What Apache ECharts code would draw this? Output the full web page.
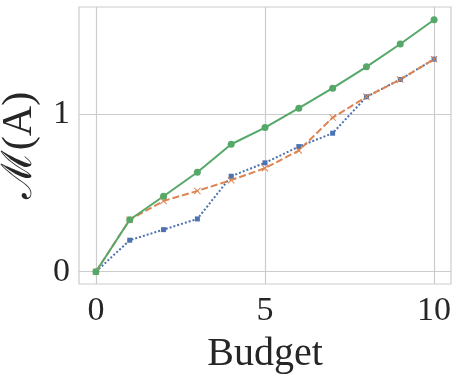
<!DOCTYPE html>
<html>
<head>
<meta charset="utf-8">
<script src="https://cdn.jsdelivr.net/npm/echarts@6/dist/echarts.min.js"></script>
<style>
  html, body { margin: 0; padding: 0; background: #fff; }
  #chart { width: 458px; height: 375px; }
</style>
</head>
<body>
<div id="chart"></div>
<script>
  // budget steps
  const budget = [0, 1, 2, 3, 4, 5, 6, 7, 8, 9, 10]
  const xTicks = [0, 5, 10]
  const yTicks = [0, 1]
  // the three curves
  const blueVals = [0, 0.20, 0.267, 0.335, 0.606, 0.691, 0.794, 0.879, 1.11, 1.22, 1.349]
  const orangeVals = [0, 0.33, 0.449, 0.513, 0.581, 0.657, 0.769, 0.978, 1.11, 1.22, 1.349]
  const greenVals = [0, 0.33, 0.479, 0.631, 0.809, 0.915, 1.038, 1.165, 1.30, 1.445, 1.599]

  const pairs = vals => budget.map((b, i) => [b, vals[i]])
  const serif = '"Liberation Serif", "DejaVu Serif", serif'
  const cross = 'path://M0,1L1,0L5,4L9,0L10,1L6,5L10,9L9,10L5,6L1,10L0,9L4,5Z'

  let myChart = echarts.init(document.getElementById('chart'))
  let option = {
    animation: false,
    grid: {
      left: 79, right: 7, top: 7, bottom: 91,
      outerBoundsMode: 'none',
      containLabel: false,
      show: true,
      borderColor: '#cccccc',
      borderWidth: 1.2
    },
    xAxis: {
      type: 'value',
      min: -0.5,
      max: 10.5,
      name: 'Budget',
      nameLocation: 'middle',
      nameGap: 50,
      nameTextStyle: { fontFamily: serif, fontSize: 40, color: '#262626' },
      axisLine: { show: false },
      axisTick: { show: false, customValues: xTicks },
      axisLabel: {
        customValues: xTicks,
        fontFamily: serif, fontSize: 34, color: '#262626', margin: 10
      },
      splitLine: { show: true, lineStyle: { color: '#cccccc', width: 1.2 } }
    },
    yAxis: {
      type: 'value',
      min: -0.078,
      max: 1.68,
      name: 'ℳ(A)',
      nameLocation: 'middle',
      nameRotate: 90,
      nameGap: 38,
      nameTextStyle: { fontFamily: serif, fontSize: 42, color: '#262626' },
      axisLine: { show: false },
      axisTick: { show: false, customValues: yTicks },
      axisLabel: {
        customValues: yTicks,
        fontFamily: serif, fontSize: 34, color: '#262626', margin: 9
      },
      splitLine: { show: true, lineStyle: { color: '#cccccc', width: 1.2 } }
    },
    series: [
      {
        name: 'blue',
        type: 'line',
        data: pairs(blueVals),
        symbol: 'rect',
        symbolSize: 5,
        itemStyle: { color: '#4C72B0' },
        lineStyle: { color: '#4C72B0', width: 2, type: [2, 2] }
      },
      {
        name: 'orange',
        type: 'line',
        data: pairs(orangeVals),
        symbol: cross,
        symbolSize: 7,
        itemStyle: { color: '#DD8452' },
        lineStyle: { color: '#DD8452', width: 2, type: [7, 3] }
      },
      {
        name: 'green',
        type: 'line',
        data: pairs(greenVals),
        symbol: 'circle',
        symbolSize: 7,
        itemStyle: { color: '#55A868' },
        lineStyle: { color: '#55A868', width: 2 }
      }
    ]
  }
  myChart.setOption(option)
</script>
</body>
</html>
